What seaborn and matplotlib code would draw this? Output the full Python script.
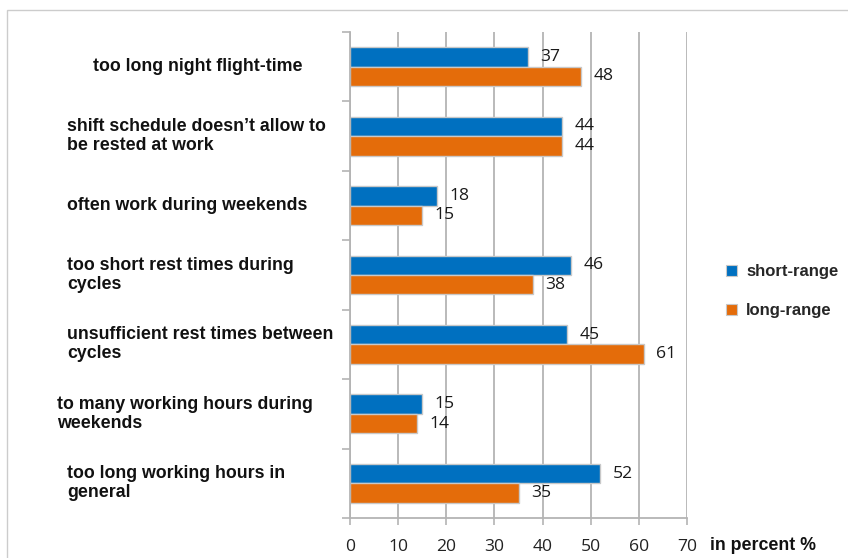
import pandas as pd
import matplotlib.pyplot as plt
import matplotlib.patches as mpatches
from matplotlib.transforms import blended_transform_factory
import seaborn as sns


# DATA

reasons = [
    "too long night flight-time",
    "shift schedule doesn\u2019t allow to\nbe rested at work",
    "often work during weekends",
    "too short rest times during\ncycles",
    "unsufficient rest times between\ncycles",
    "to many working hours during\nweekends",
    "too long working hours in\ngeneral",
]
short_range = [37, 44, 18, 46, 45, 15, 52]
long_range = [48, 44, 15, 38, 61, 14, 35]
series_names = ["short-range", "long-range"]
x_ticks = [0, 10, 20, 30, 40, 50, 60, 70]

# left edge (pixels) of each category label, as laid out in the original
label_x_px = [93, 67, 67, 67, 67, 57, 67]

BLUE = "#0070c0"
ORANGE = "#e46c0a"
GRID = "#b4b4b4"

df = pd.DataFrame({
    "reason": reasons * 2,
    "value": short_range + long_range,
    "range": [series_names[0]] * len(reasons) + [series_names[1]] * len(reasons),
})

sns.set_theme(style="white")
plt.rcParams["font.family"] = ["Liberation Sans", "DejaVu Sans"]

W, H = 848, 558
fig = plt.figure(figsize=(W / 100, H / 100), dpi=100)
ax = fig.add_axes([350 / W, 1 - 518 / H, 337 / W, 486 / H])

sns.barplot(
    data=df, y="reason", x="value", hue="range", orient="h",
    order=reasons, hue_order=series_names,
    palette=[BLUE, ORANGE], saturation=1, width=0.56,
    edgecolor="#c8c8c8", linewidth=1.0, ax=ax, legend=False,
)

# value labels
for cont in ax.containers:
    ax.bar_label(cont, padding=9, fontsize=12.6, family="Open Sans", color="#1a1a1a")

ax.set_xlim(0, 70)
ax.set_ylim(len(reasons) - 0.5, -0.5)
ax.set_xticks(x_ticks)
ax.set_xticklabels([str(t) for t in x_ticks], family="Open Sans", fontsize=12.6, color="#222222")
ax.set_yticks([i - 0.5 for i in range(len(reasons) + 1)])
ax.set_yticklabels([])
ax.tick_params(axis="x", length=5, width=1.2, color=GRID, pad=10, direction="out", bottom=True)
ax.tick_params(axis="y", length=6, width=1.2, color=GRID, direction="out", left=True)
ax.set_xlabel("")
ax.set_ylabel("")

ax.set_axisbelow(True)
ax.grid(axis="x", color=GRID, linewidth=1.3)
ax.grid(axis="y", visible=False)
for side in ["top", "right"]:
    ax.spines[side].set_visible(False)
for side in ["left", "bottom"]:
    ax.spines[side].set_color(GRID)
    ax.spines[side].set_linewidth(1.3)

# category labels on the left
trans = blended_transform_factory(fig.transFigure, ax.transData)
for i, (lab, xp) in enumerate(zip(reasons, label_x_px)):
    ax.text(xp / W, i, lab, transform=trans, ha="left", va="center",
            fontsize=12.8, fontweight="bold", color="#111111", linespacing=1.15)

# legend
handles = [mpatches.Patch(facecolor=c, edgecolor="#c8c8c8", linewidth=0.8) for c in [BLUE, ORANGE]]
leg = ax.legend(
    handles, series_names, loc="center left",
    bbox_to_anchor=(711 / W, 1 - 291 / H), bbox_transform=fig.transFigure,
    frameon=False, handlelength=0.65, handleheight=0.65, handletextpad=0.55,
    labelspacing=1.45, prop={"weight": "bold", "size": 12},
)

# axis title to the right of the ticks
fig.text(710 / W, 1 - 545 / H, "in percent %", ha="left", va="center",
         fontsize=12.8, fontweight="bold", color="#111111")

# thin frame of the original slide
frame = mpatches.Rectangle((7 / W, -0.1), 1.2, 1.1 - 10 / H, transform=fig.transFigure,
                           fill=False, edgecolor="#cccccc", linewidth=1.0)
fig.patches.append(frame)

fig.savefig("out.png", dpi=100)
